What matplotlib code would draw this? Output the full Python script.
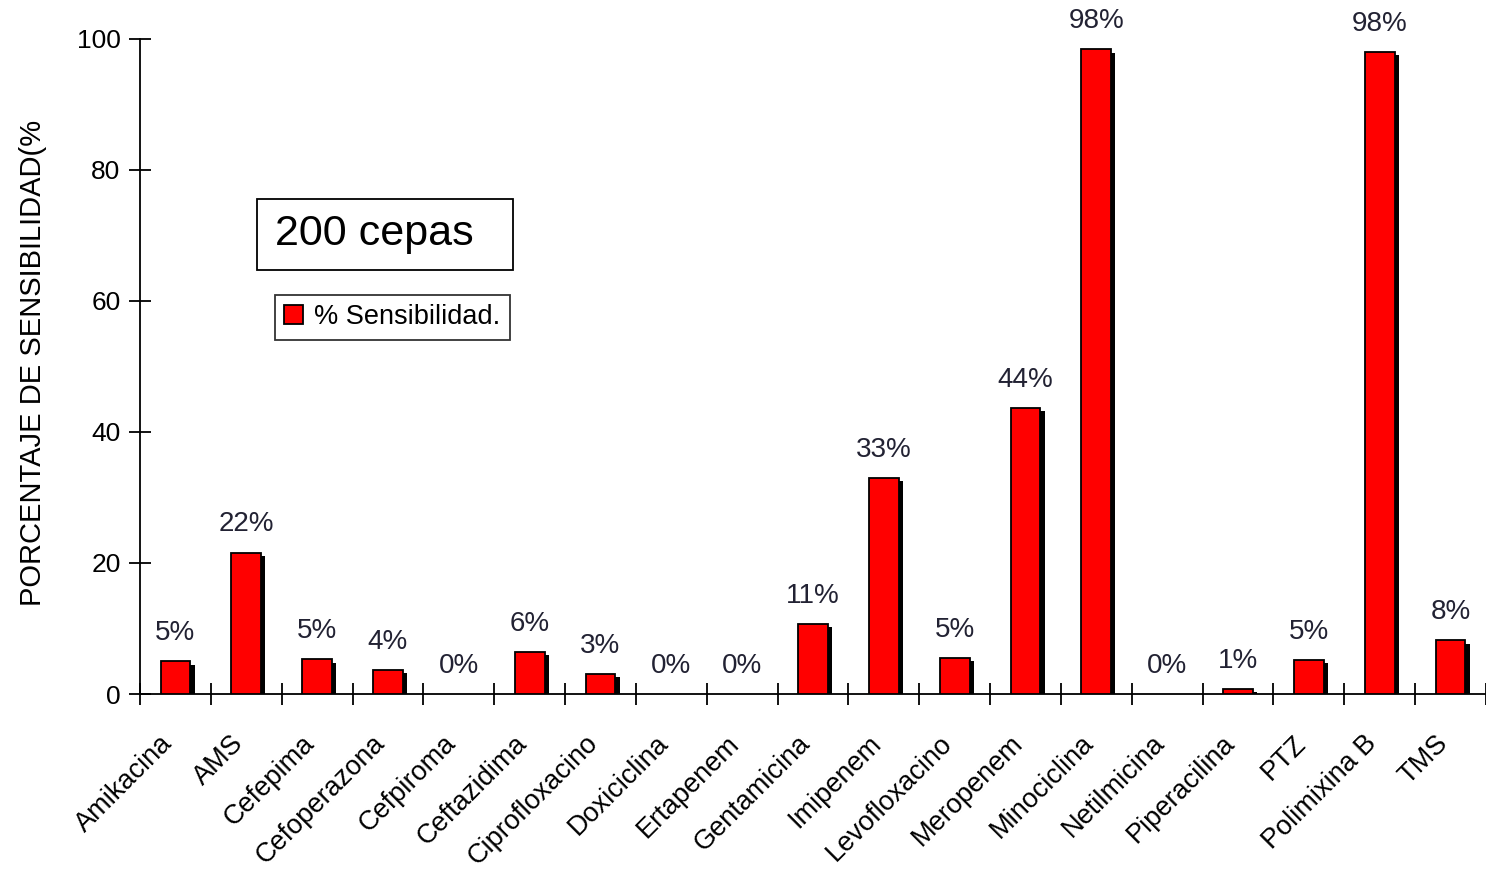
import numpy as np
import matplotlib.pyplot as plt
import matplotlib.transforms as mtransforms
from matplotlib.patches import Rectangle

plt.rcParams['font.family'] = ['Liberation Sans', 'DejaVu Sans']

antibioticos = ["Amikacina", "AMS", "Cefepima", "Cefoperazona", "Cefpiroma",
                "Ceftazidima", "Ciprofloxacino", "Doxiciclina", "Ertapenem",
                "Gentamicina", "Imipenem", "Levofloxacino", "Meropenem",
                "Minociclina", "Netilmicina", "Piperacilina", "PTZ",
                "Polimixina B", "TMS"]
sensibilidad = [5.0, 21.6, 5.3, 3.7, 0, 6.4, 3.1, 0, 0, 10.7, 33.0, 5.5,
                43.7, 98.4, 0, 0.8, 5.2, 98.0, 8.2]
etiquetas = ["5%", "22%", "5%", "4%", "0%", "6%", "3%", "0%", "0%", "11%",
             "33%", "5%", "44%", "98%", "0%", "1%", "5%", "98%", "8%"]

fig = plt.figure(figsize=(14.86, 8.71), dpi=100)
ax = fig.add_axes([140 / 1486, 1 - 694 / 871, 1 - 140 / 1486, (694 - 39) / 871])

x = np.arange(len(antibioticos))
vals = np.array(sensibilidad)
w = 0.42

# shadow bars, then red bars on top
sombra = np.clip(vals - 0.5, 0, None)
ax.bar(x + 0.06, sombra, width=w, color="black", linewidth=0, zorder=2)
bars = ax.bar(x, vals, width=w, color="#ff0000", edgecolor="black",
              linewidth=1.3, zorder=3, label="% Sensibilidad.")
for v in range(len(vals)):
    if vals[v] == 0:
        bars[v].set_visible(False)

for xi, v, t in zip(x, vals, etiquetas):
    ax.text(xi, v + 2.3, t, ha="center", va="bottom", fontsize=20,
            color="#222233")

ax.set_xlim(-0.5, len(x) - 0.5)
ax.set_ylim(0, 100)
ax.set_yticks([0, 20, 40, 60, 80, 100])
ax.tick_params(axis="y", direction="inout", length=16, width=1.3,
               labelsize=19, pad=6)
ax.set_xticks(x)
ax.set_xticklabels(antibioticos, rotation=45, ha="right",
                   rotation_mode="anchor", fontsize=19.5)
ax.tick_params(axis="x", which="major", length=0, pad=24)
# nudge labels left a bit
shift = mtransforms.ScaledTranslation(-16 / 100, -3 / 100, fig.dpi_scale_trans)
for lbl in ax.get_xticklabels():
    lbl.set_transform(lbl.get_transform() + shift)
ax.set_xticks(np.arange(-0.5, len(x), 1), minor=True)
ax.tick_params(axis="x", which="minor", direction="inout", length=16,
               width=1.3)

for s in ["top", "right"]:
    ax.spines[s].set_visible(False)
for s in ["left", "bottom"]:
    ax.spines[s].set_linewidth(1.3)

fig.text(33 / 1486, 1 - 363 / 871, "PORCENTAJE DE SENSIBILIDAD(%",
         rotation=90, ha="center", va="center", fontsize=21)

# "200 cepas" box
ax.add_patch(Rectangle((0.0869, 64.7), 0.2771 - 0.0869, 75.6 - 64.7,
                       transform=ax.get_yaxis_transform(), fc="white",
                       ec="black", lw=1.3, zorder=4))
ax.text(0.1003, 70.3, "200 cepas", transform=ax.get_yaxis_transform(),
        fontsize=31, ha="left", va="center", zorder=5)

leg = ax.legend(loc="center left", bbox_to_anchor=(0.1, 0.575),
                frameon=True, fancybox=False, fontsize=19.5, handlelength=0.7,
                handleheight=0.7, handletextpad=0.4, borderpad=0.35,
                borderaxespad=0)
leg.get_frame().set_edgecolor("black")
leg.get_frame().set_linewidth(1.3)

fig.savefig("out.png", dpi=100)
